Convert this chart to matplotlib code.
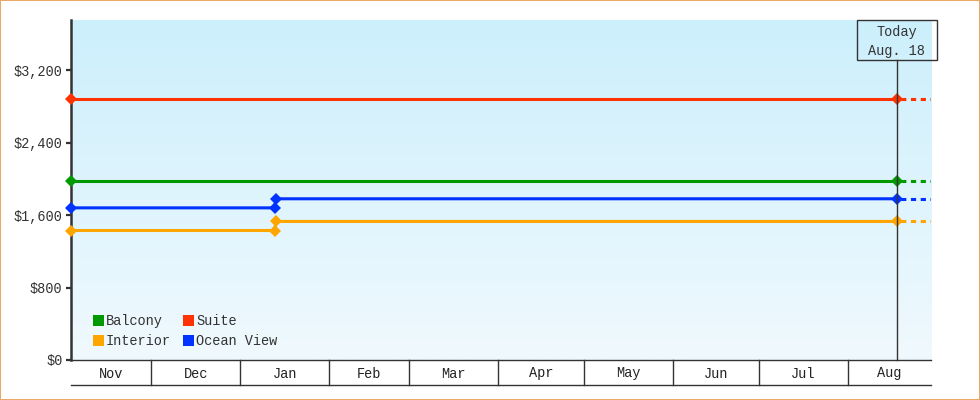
import datetime as dt
import numpy as np
import matplotlib
matplotlib.use('Agg')
import matplotlib.pyplot as plt
import matplotlib.dates as mdates
import matplotlib.transforms as mtransforms
from matplotlib.patches import Rectangle

plt.rcParams['font.family'] = ['Liberation Mono', 'DejaVu Sans Mono']

# data
start_date = dt.datetime(2024, 11, 3)
step_date = dt.datetime(2025, 1, 13)
step_date_after = dt.datetime(2025, 1, 13, 12)
today_date = dt.datetime(2025, 8, 18)
end_date = dt.datetime(2025, 8, 30)

suite_dates = [start_date, today_date]
suite_values = [2879, 2879]
balcony_dates = [start_date, today_date]
balcony_values = [1979, 1979]
ocean_dates = [start_date, step_date, step_date_after, today_date]
ocean_values = [1679, 1679, 1779, 1779]
interior_dates = [start_date, step_date, step_date_after, today_date]
interior_values = [1429, 1429, 1529, 1529]

month_starts = [dt.datetime(2024, 12, 1), dt.datetime(2025, 1, 1), dt.datetime(2025, 2, 1),
                dt.datetime(2025, 3, 1), dt.datetime(2025, 4, 1), dt.datetime(2025, 5, 1),
                dt.datetime(2025, 6, 1), dt.datetime(2025, 7, 1), dt.datetime(2025, 8, 1)]
month_labels = ['Nov', 'Dec', 'Jan', 'Feb', 'Mar', 'Apr', 'May', 'Jun', 'Jul', 'Aug']
y_ticks = [0, 800, 1600, 2400, 3200]
y_max = 3752

series = [
    ('Suite', suite_dates, suite_values, '#ff3300'),
    ('Balcony', balcony_dates, balcony_values, '#009900'),
    ('Ocean View', ocean_dates, ocean_values, '#0033ff'),
    ('Interior', interior_dates, interior_values, '#ffa500'),
]
legend_order = [('Balcony', '#009900'), ('Suite', '#ff3300'),
                ('Interior', '#ffa500'), ('Ocean View', '#0033ff')]

ink = '#333333'
fs = 9.8

fig = plt.figure(figsize=(9.8, 4.0), dpi=100)
ax = fig.add_axes([71 / 980, 40 / 400, 860 / 980, 340 / 400])

# gradient background
grad = np.linspace(0, 1, 256).reshape(-1, 1)
top = np.array([204, 239, 252]) / 255
bot = np.array([240, 249, 254]) / 255
img = top[None, None, :] * (1 - grad[:, :, None]) + bot[None, None, :] * grad[:, :, None]
ax.imshow(img, extent=[0, 1, 0, 1], transform=ax.transAxes, aspect='auto', zorder=0)

for name, dates, values, color in series:
    ax.plot(dates, values, color=color, lw=2.2, marker='D', markersize=6,
            markeredgewidth=0, zorder=3, clip_on=False)
    ax.plot([dates[-1], end_date], [values[-1], values[-1]], color=color, lw=2.2,
            ls=(2.0, (1.7, 1.5)), zorder=2, dash_capstyle='butt')

ax.set_xlim(start_date, end_date)
ax.set_ylim(0, y_max)
ax.set_yticks(y_ticks)
ax.set_yticklabels(['${:,}'.format(v) for v in y_ticks])
ax.tick_params(axis='y', length=3.6, width=1.6, color=ink, labelcolor=ink,
               labelsize=fs, pad=2.5)
ax.set_xticks([])
for s in ['top', 'right']:
    ax.spines[s].set_visible(False)
ax.spines['left'].set_linewidth(1.8)
ax.spines['left'].set_color(ink)
ax.spines['bottom'].set_linewidth(1.0)
ax.spines['bottom'].set_color(ink)

# month table under the axis
trans = mtransforms.blended_transform_factory(ax.transData, ax.transAxes)
table_bottom = -25 / 340
ax.plot([start_date, end_date], [table_bottom, table_bottom], color=ink, lw=1.0,
        transform=trans, clip_on=False)
for m in month_starts:
    ax.plot([m, m], [0, table_bottom], color=ink, lw=1.0, transform=trans, clip_on=False)
edges = [start_date] + month_starts + [end_date]
for i, lab in enumerate(month_labels):
    mid = edges[i] + (edges[i + 1] - edges[i]) / 2
    ax.text(mid, -12 / 340, lab, transform=trans, ha='center', va='center_baseline',
            fontsize=fs, color='#222222')

# today marker
box_h = 40 / 340
ax.plot([today_date, today_date], [0, 1 - box_h], color=ink, lw=1.0, transform=trans,
        zorder=4, clip_on=False)
half_w = dt.timedelta(days=40 / 2.868)
x0 = mdates.date2num(today_date - half_w)
x1 = mdates.date2num(today_date + half_w)
ax.add_patch(Rectangle((x0, 1 - box_h), x1 - x0, box_h, transform=trans, fill=False,
                       edgecolor=ink, lw=1.0, clip_on=False, zorder=5))
ax.text(today_date, 1 - box_h / 2 - 1.5 / 340, 'Today\nAug. 18', transform=trans,
        ha='center', va='center', fontsize=fs, color=ink, linespacing=1.45, zorder=6)

# legend
sq_w = 11 / 860
sq_h = 11 / 340
cols = [(93 - 71) / 860, (183 - 71) / 860]
rows = [(360 - 326) / 340, (360 - 346) / 340]
for i, (name, color) in enumerate(legend_order):
    cx = cols[i % 2]
    ry = rows[i // 2]
    ax.add_patch(Rectangle((cx, ry), sq_w, sq_h, transform=ax.transAxes,
                           facecolor=color, edgecolor='none', zorder=5))
    ax.text(cx + 13 / 860, ry + sq_h / 2 + 1 / 340, name, transform=ax.transAxes,
            ha='left', va='center_baseline', fontsize=fs, color=ink, zorder=5)

fig.patches.append(Rectangle((0, 0), 1, 1, transform=fig.transFigure, fill=False,
                             edgecolor='#eaa966', lw=1.5))

fig.savefig('out.png', dpi=100)
